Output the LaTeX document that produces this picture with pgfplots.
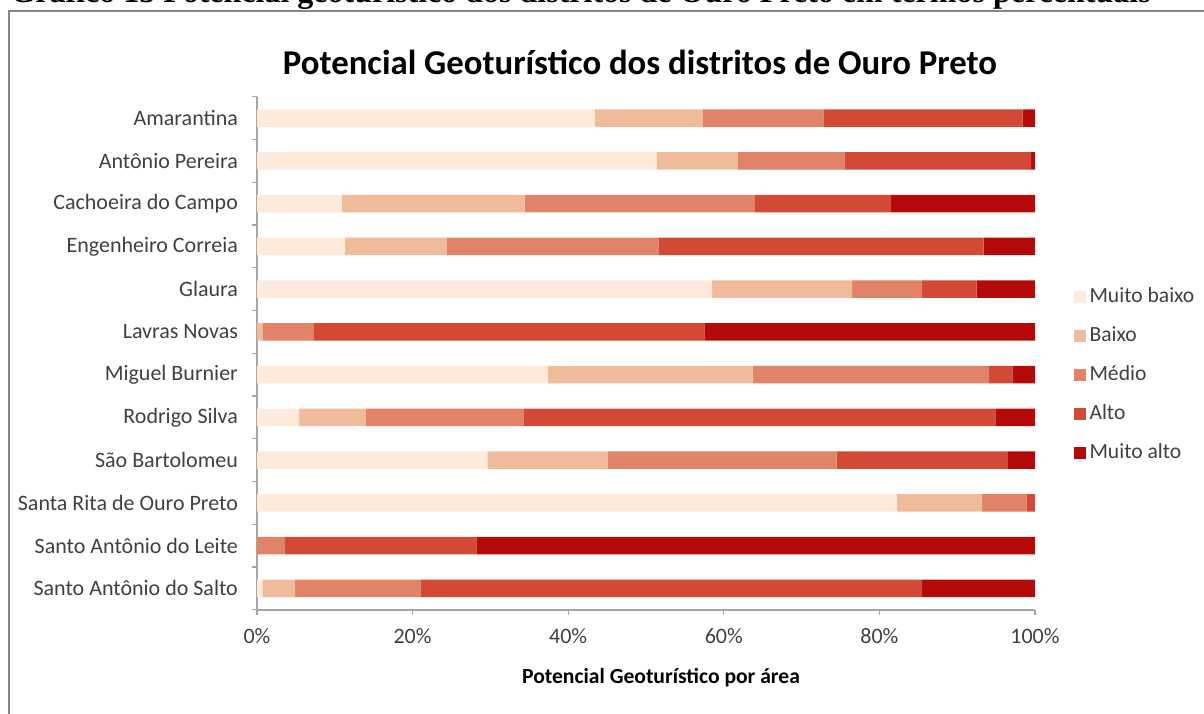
\documentclass[border=0pt]{standalone}
\usepackage{pgfplots}
\usepackage{pgfplotstable}
\pgfplotsset{compat=1.18}
\usepackage{fontspec}
\setmainfont{Carlito}
\newfontfamily\headfont{Liberation Serif}

\definecolor{mb}{RGB}{253,234,218}
\definecolor{ba}{RGB}{240,187,155}
\definecolor{me}{RGB}{224,131,104}
\definecolor{al}{RGB}{210,74,53}
\definecolor{ma}{RGB}{180,10,10}
\definecolor{axgray}{RGB}{166,166,166}
\definecolor{framegray}{RGB}{134,134,134}
\definecolor{txt}{RGB}{64,64,64}

% y = 11 is the top row (Amarantina)
\pgfplotstableread{
y  mb   ba   me   al   ma
11 43.4 13.9 15.5 25.6 1.6
10 51.4 10.4 13.7 24.0 0.5
9  10.9 23.5 29.6 17.5 18.5
8  11.3 13.1 27.2 41.8 6.6
7  58.5 18.0 9.0  7.0  7.5
6  0.0  0.7  6.6  50.2 42.5
5  37.4 26.3 30.4 3.0  2.9
4  5.4  8.6  20.3 60.6 5.1
3  29.6 15.5 29.4 22.0 3.5
2  82.2 11.0 5.7  1.1  0.0
1  0.0  0.0  3.6  24.6 71.8
0  0.7  4.2  16.1 64.5 14.5
}\distritos

\begin{document}
\begin{tikzpicture}
\useasboundingbox (0,0) rectangle (602pt,356.5pt);
\clip (0,0) rectangle (602pt,356.5pt);

% header text (cut off at the top) and frame
\node[anchor=base west, inner sep=0, font=\headfont\bfseries\fontsize{16}{18}\selectfont]
  at (5pt,355pt) {Gráfico 15 Potencial geoturístico dos distritos de Ouro Preto em termos percentuais};
\draw[framegray, line width=0.8pt] (4.5pt,351pt) rectangle (640pt,-20pt);

\begin{axis}[
    at={(128.5pt,51.65pt)}, anchor=south west,
    scale only axis, width=389pt, height=256.5pt,
    xbar stacked, bar width=0.41,
    xmin=0, xmax=100, ymin=-0.5, ymax=11.5,
    axis x line*=bottom, axis y line*=left,
    axis line style={draw=axgray, line width=0.8pt},
    xtick={0,20,...,100},
    xticklabels={0\%,20\%,40\%,60\%,80\%,100\%},
    xtick style={draw=axgray, line width=0.6pt},
    tick align=outside, major tick length=2.5pt,
    xticklabel style={font=\fontsize{11}{13}\selectfont, text=txt, yshift=-3.5pt},
    ytick={0,...,11},
    yticklabels={Santo Antônio do Salto, Santo Antônio do Leite, Santa Rita de Ouro Preto,
      São Bartolomeu, Rodrigo Silva, Miguel Burnier, Lavras Novas, Glaura,
      Engenheiro Correia, Cachoeira do Campo, Antônio Pereira, Amarantina},
    ytick style={draw=none},
    yticklabel style={font=\fontsize{11}{13}\selectfont, text=txt, xshift=-3.5pt},
    clip=false,
    legend cell align=left,
    legend style={at={(1.049,0.457)}, anchor=west, draw=none, fill=none,
      inner sep=0pt, row sep=6.5pt, font=\fontsize{10.8}{12}\selectfont, text=txt,
      nodes={text height=7pt, text depth=2pt, inner sep=2pt}},
    legend image code/.code={\fill[#1] (0pt,-3pt) rectangle (6pt,3pt);},
]
\addplot[fill=mb, draw=none] table[x=mb, y=y] {\distritos};
\addplot[fill=ba, draw=none] table[x=ba, y=y] {\distritos};
\addplot[fill=me, draw=none] table[x=me, y=y] {\distritos};
\addplot[fill=al, draw=none] table[x=al, y=y] {\distritos};
\addplot[fill=ma, draw=none] table[x=ma, y=y] {\distritos};
\legend{Muito baixo, Baixo, Médio, Alto, Muito alto}
% category separators on the left axis
\pgfplotsinvokeforeach{-0.5,0.5,...,11.5}{
  \draw[axgray, line width=0.6pt] (axis cs:0,#1) -- ([xshift=-2.5pt]axis cs:0,#1);
}
\end{axis}

\node[font=\bfseries\fontsize{17.4}{20}\selectfont, text=black] at (320pt,325.5pt)
  {Potencial Geoturístico dos distritos de Ouro Preto};
\node[font=\bfseries\fontsize{10.8}{12}\selectfont, text=black] at (330.5pt,17.5pt)
  {Potencial Geoturístico por área};
\end{tikzpicture}
\end{document}
